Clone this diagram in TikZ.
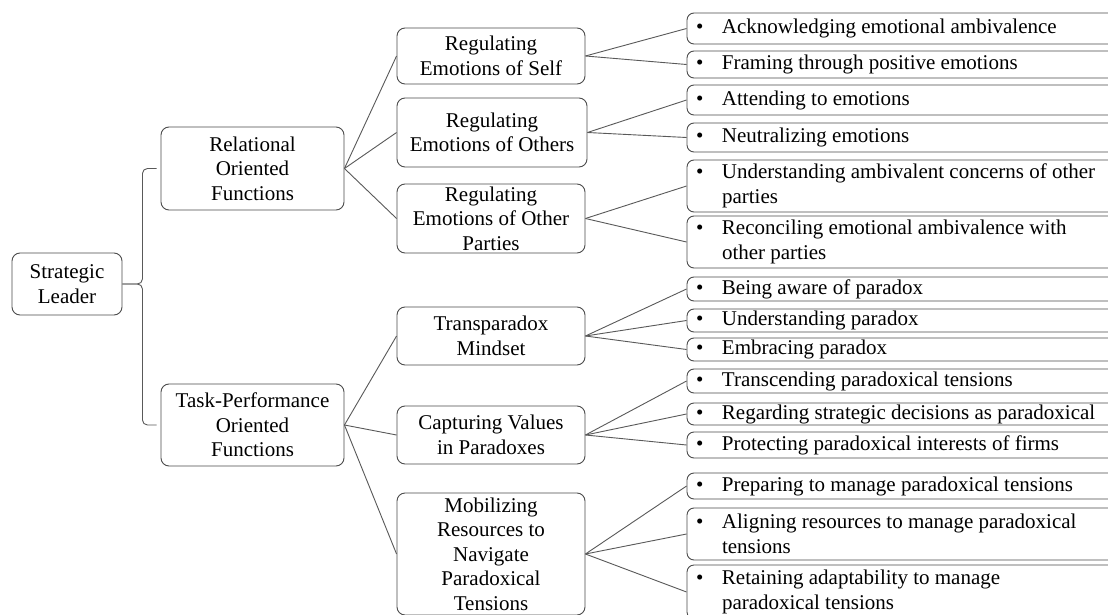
\documentclass[tikz,border=0pt]{standalone}
\usepackage{fontspec}
\setmainfont{Liberation Serif}
\usetikzlibrary{calc}
\begin{document}
\begin{tikzpicture}[x=1pt,y=-1pt,
  every node/.style={font=\fontsize{21pt}{24.5pt}\selectfont},
  box/.style={draw=black!70, line width=0.9pt, rounded corners=8pt, inner sep=0pt, align=center},
  item/.style={draw=black!70, line width=0.9pt, rounded corners=7pt, inner ysep=0pt, inner xsep=9pt,
     minimum width=429pt, text width=411pt, align=flush left},
  link/.style={draw=black!65, line width=0.9pt},
  brace/.style={draw=black!65, line width=0.9pt, rounded corners=5pt}]
\useasboundingbox (0,0) rectangle (1108,615);
\fill[white] (0,0) rectangle (1108,615);
\begin{scope}
\clip (0,0) rectangle (1108,615);
\newcommand{\bul}{\makebox[26pt][l]{\textbullet}}
\newcommand{\ind}{\hspace*{26pt}}
% level 0
\node[box, minimum width=110pt, minimum height=62pt] (leader) at (67,284) {Strategic\\Leader};
% level 1
\node[box, minimum width=183pt, minimum height=83pt] (rel) at (252.5,168.5) {Relational\\Oriented\\Functions};
\node[box, minimum width=183pt, minimum height=82pt] (task) at (252.5,425) {Task-Performance\\Oriented\\Functions};
% level 2
\node[box, minimum width=188pt, minimum height=56pt] (self) at (491,56) {Regulating\\Emotions of Self};
\node[box, minimum width=190pt, minimum height=69pt] (others) at (492,132.5) {Regulating\\Emotions of Others};
\node[box, minimum width=188pt, minimum height=69pt] (parties) at (491,218.5) {Regulating\\Emotions of Other\\Parties};
\node[box, minimum width=188pt, minimum height=58pt] (trans) at (491,336) {Transparadox\\Mindset};
\node[box, minimum width=188pt, minimum height=58pt] (capt) at (491,435) {Capturing Values\\in Paradoxes};
\node[box, minimum width=188pt, minimum height=122pt] (mob) at (491,554) {Mobilizing\\Resources to\\Navigate\\Paradoxical\\Tensions};
% level 3
\node[item, minimum height=31pt] (r1) at (901.5,28.5) {\bul Acknowledging emotional ambivalence};
\node[item, minimum height=27pt] (r2) at (901.5,64.5) {\bul Framing through positive emotions};
\node[item, minimum height=30pt] (r3) at (901.5,100) {\bul Attending to emotions};
\node[item, minimum height=29pt] (r4) at (901.5,137.5) {\bul Neutralizing emotions};
\node[item, minimum height=52pt] (r5) at (901.5,186) {\bul Understanding ambivalent concerns of other\\\ind parties};
\node[item, minimum height=52pt] (r6) at (901.5,242) {\bul Reconciling emotional ambivalence with\\\ind other parties};
\node[item, minimum height=24pt] (r7) at (901.5,289) {\bul Being aware of paradox};
\node[item, minimum height=23pt] (r8) at (901.5,320.5) {\bul Understanding paradox};
\node[item, minimum height=23pt] (r9) at (901.5,349.5) {\bul Embracing paradox};
\node[item, minimum height=24pt] (r10) at (901.5,381) {\bul Transcending paradoxical tensions};
\node[item, minimum height=22pt] (r11) at (901.5,414) {\bul Regarding strategic decisions as paradoxical};
\node[item, minimum height=26pt] (r12) at (901.5,445) {\bul Protecting paradoxical interests of firms};
\node[item, minimum height=26pt] (r13) at (901.5,486) {\bul Preparing to manage paradoxical tensions};
\node[item, minimum height=52pt] (r14) at (901.5,534) {\bul Aligning resources to manage paradoxical\\\ind tensions};
\node[item, minimum height=54pt] (r15) at (901.5,592) {\bul Retaining adaptability to manage\\\ind paradoxical tensions};
% brace
\coordinate (bx) at ($(leader.east)+(20pt,0)$);
\draw[brace] ([xshift=-4pt]rel.west) -| (bx) -- (leader.east);
\draw[brace] ([xshift=-4pt]task.west) -| (bx) -- (leader.east);
% links level 1 -> 2
\foreach \t in {self,others,parties} \draw[link] (rel.east) -- (\t.west);
\foreach \t in {trans,capt,mob} \draw[link] (task.east) -- (\t.west);
% links level 2 -> 3
\foreach \t in {r1,r2} \draw[link] (self.east) -- (\t.west);
\foreach \t in {r3,r4} \draw[link] (others.east) -- (\t.west);
\foreach \t in {r5,r6} \draw[link] (parties.east) -- (\t.west);
\foreach \t in {r7,r8,r9} \draw[link] (trans.east) -- (\t.west);
\foreach \t in {r10,r11,r12} \draw[link] (capt.east) -- (\t.west);
\foreach \t in {r13,r14,r15} \draw[link] (mob.east) -- (\t.west);
\end{scope}
\end{tikzpicture}
\end{document}
